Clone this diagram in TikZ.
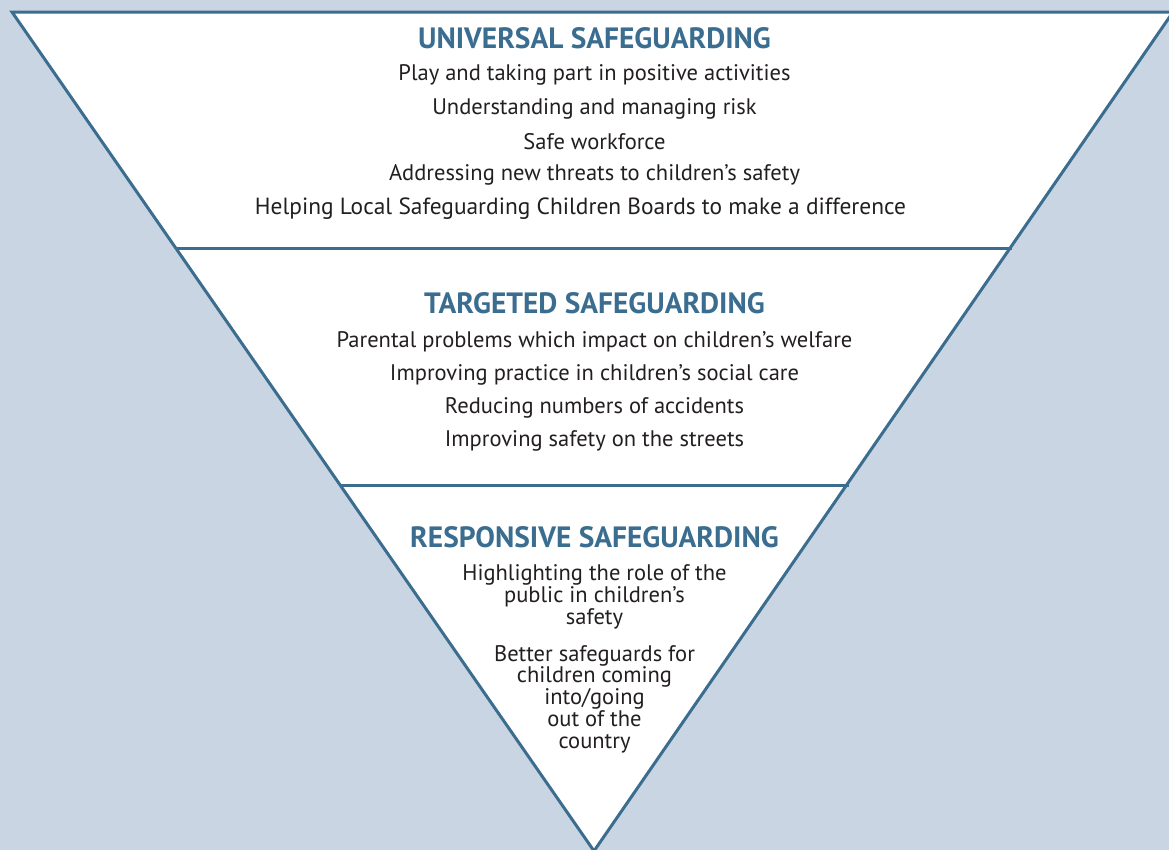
\documentclass[tikz,border=0pt]{standalone}
\usepackage{fontspec}
\setmainfont{PT Sans}
\definecolor{bgblue}{HTML}{C9D5E3}
\definecolor{edgeblue}{HTML}{3B6D8E}
\definecolor{titleblue}{HTML}{3A6D8F}
\definecolor{bodytext}{HTML}{231F20}
\begin{document}
\begin{tikzpicture}[x=1bp,y=-1bp,
  edge/.style={draw=edgeblue,line width=3bp,line join=miter},
  heading/.style={font=\fontsize{29.5}{32}\selectfont\bfseries,text=titleblue,anchor=center,inner sep=0pt},
  item/.style={font=\fontsize{22.6}{21.8}\selectfont,text=bodytext,anchor=center,inner sep=0pt,align=center}]
\fill[bgblue] (0,0) rectangle (1169,850);
\useasboundingbox (0,0) rectangle (1169,850);
\coordinate (tl) at (12,12);
\coordinate (tr) at (1173,12);
\coordinate (ap) at (594,851);
\coordinate (l1) at (176,248);
\coordinate (r1) at (1012,248);
\coordinate (l2) at (340,485);
\coordinate (r2) at (849,485);
\fill[white] (tl) -- (tr) -- (ap) -- cycle;
\draw[edge] (tl) -- (tr) -- (ap) -- cycle;
\draw[edge] (l1) -- (r1);
\draw[edge] (l2) -- (r2);
% universal
\node[heading] (h1) at (594.5,38) {UNIVERSAL SAFEGUARDING};
\node[item] (u1) at (594.5,75) {Play and taking part in positive activities};
\node[item] (u2) at (594.5,109) {Understanding and managing risk};
\node[item] (u3) at (594.5,142) {Safe workforce};
\node[item] (u4) at (594.5,175) {Addressing new threats to children’s safety};
\node[item,font=\fontsize{23.5}{21.8}\selectfont] (u5) at (580.5,209) {Helping Local Safeguarding Children Boards to make a difference};
% targeted
\node[heading] (h2) at (594.5,303) {TARGETED SAFEGUARDING};
\node[item] (t1) at (594.5,342) {Parental problems which impact on children’s welfare};
\node[item] (t2) at (594.5,375) {Improving practice in children’s social care};
\node[item] (t3) at (594.5,408) {Reducing numbers of accidents};
\node[item] (t4) at (594.5,441) {Improving safety on the streets};
% responsive
\node[heading] (h3) at (594.5,537) {RESPONSIVE SAFEGUARDING};
\node[item] (r1t) at (594.5,597) {Highlighting the role of the\\public in children’s\\safety};
\node[item] (r2t) at (594.5,699) {Better safeguards for\\children coming\\into/going\\out of the\\country};
\end{tikzpicture}
\end{document}
